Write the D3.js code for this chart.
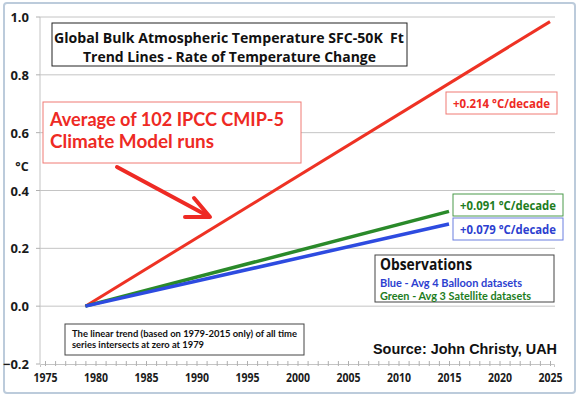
<!DOCTYPE html>
<html>
<head>
<meta charset="utf-8">
<style>
  body { margin: 0; background: #fff; }
  svg { display: block; font-family: 'Open Sans', Lato, sans-serif; }
  text { white-space: pre; }
  .grid line { stroke: #c4c4c4; stroke-width: 1; }
  .axis .domain { stroke: #c4c4c4; }
  .axis .tick line { stroke: #b0b0b0; }
  .axis text { font-family: 'Open Sans', sans-serif; font-weight: bold; font-size: 12px; fill: #1a1a1a; }
</style>
</head>
<body>
<svg width="580" height="398"></svg>
<script src="https://d3js.org/d3.v7.min.js"></script>
<script>
// trend lines, intersecting zero at 1979
const modelYears = [1979, 2025];
const modelValues = [0, 0.984];
const satelliteYears = [1979, 2015];
const satelliteValues = [0, 0.328];
const balloonYears = [1979, 2015];
const balloonValues = [0, 0.284];

const yTicks = [-0.2, 0, 0.2, 0.4, 0.6, 0.8, 1.0];
const xLabelTicks = [1975, 1980, 1985, 1990, 1995, 2000, 2005, 2010, 2015, 2020, 2025];

const svg = d3.select("svg");

// outer frame
svg.append("rect")
  .attr("x", 4).attr("y", 3).attr("width", 571).attr("height", 390)
  .attr("rx", 3)
  .style("fill", "#fff").style("stroke", "#bccbdb").style("stroke-width", 2);

const x = d3.scaleLinear().domain([1975, 2025]).range([45, 550]);
const y = d3.scaleLinear().domain([-0.2, 1.0]).range([364, 17]);
const xLeft = 40, xRight = 555;

// horizontal grid
svg.append("g").attr("class", "grid")
  .selectAll("line").data(yTicks.filter(d => d > -0.2)).join("line")
  .attr("x1", xLeft).attr("x2", xRight)
  .attr("y1", d => y(d)).attr("y2", d => y(d));

// y axis line + labels
svg.append("line")
  .attr("x1", xLeft).attr("x2", xLeft).attr("y1", y(1.0)).attr("y2", y(-0.2))
  .style("stroke", "#c4c4c4");
svg.append("g").selectAll("line").data(yTicks).join("line")
  .attr("x1", xLeft - 4).attr("x2", xLeft).attr("y1", d => y(d)).attr("y2", d => y(d))
  .style("stroke", "#b0b0b0");
svg.append("g").selectAll("text").data(yTicks).join("text")
  .attr("x", 29).attr("y", d => y(d) + 5)
  .attr("text-anchor", "end")
  .style("font-weight", "bold").style("font-size", "13px").style("fill", "#1a1a1a")
  .text(d => d3.format(".1f")(d));
svg.append("text").attr("x", 22).attr("y", 171).attr("text-anchor", "middle")
  .style("font-weight", "bold").style("font-size", "12.5px").style("fill", "#1a1a1a")
  .text("°C");

// x axis: minor ticks every year, labels every 5
const xAxisScale = d3.scaleLinear().domain([x.invert(xLeft), x.invert(554)]).range([xLeft, 554]);
svg.append("g").attr("class", "axis")
  .attr("transform", `translate(0,${y(-0.2)})`)
  .call(d3.axisBottom(xAxisScale).tickValues(d3.range(1975, 2026)).tickSize(3).tickFormat(""))
  .call(g => g.selectAll(".tick line").attr("y1", -3).attr("y2", 2));
svg.append("g").attr("class", "axis")
  .attr("transform", `translate(0,${y(-0.2)})`)
  .call(d3.axisBottom(x).tickValues(xLabelTicks).tickSize(0).tickPadding(9).tickFormat(d3.format("d")))
  .call(g => g.select(".domain").remove())
  .call(g => g.selectAll(".tick text").attr("textLength", 24).attr("lengthAdjust", "spacingAndGlyphs"));

// trend lines
const line = d3.line().x(d => x(d[0])).y(d => y(d[1]));
function series(years, values, color, w) {
  svg.append("path")
    .attr("d", line(d3.zip(years, values)))
    .style("fill", "none").style("stroke", color).style("stroke-width", w);
}
series(modelYears, modelValues, "#ee3224", 3);
series(satelliteYears, satelliteValues, "#2a8a2a", 3.5);
series(balloonYears, balloonValues, "#2d4be0", 3.5);

// multi-line text block (Lato: compact line box, so stacked lines don't collide)
function block(tx, lines, size, color) {
  lines.forEach(l => {
    svg.append("text").attr("x", l.x ?? tx).attr("y", l.y)
      .attr("textLength", l.w).attr("lengthAdjust", "spacingAndGlyphs")
      .style("font-family", "Lato, sans-serif")
      .style("font-weight", "bold").style("font-size", size + "px").style("fill", color)
      .text(l.s);
  });
}

// title box
svg.append("rect").attr("x", 52).attr("y", 23).attr("width", 355).attr("height", 43)
  .style("fill", "#fff").style("stroke", "#222").style("stroke-width", 1);
svg.append("text").attr("x", 54).attr("y", 43)
  .attr("textLength", 350).attr("lengthAdjust", "spacingAndGlyphs")
  .style("font-weight", "bold").style("font-size", "14.5px").style("fill", "#111")
  .text("Global Bulk Atmospheric Temperature SFC-50K  Ft");
svg.append("text").attr("x", 83).attr("y", 62)
  .attr("textLength", 293).attr("lengthAdjust", "spacingAndGlyphs")
  .style("font-weight", "bold").style("font-size", "14.5px").style("fill", "#111")
  .text("Trend Lines - Rate of Temperature Change");

// model callout
svg.append("rect").attr("x", 43).attr("y", 102).attr("width", 258).attr("height", 61)
  .style("fill", "#fff").style("stroke", "#f07a74").style("stroke-width", 1);
block(50, [
  { s: "Average of 102 IPCC CMIP-5", y: 126, w: 234 },
  { s: "Climate Model runs", y: 148, w: 164 }
], 18.2, "#ee2a24");

// arrow
svg.append("line").attr("x1", 117).attr("y1", 167).attr("x2", 208).attr("y2", 216)
  .style("stroke", "#ee2a24").style("stroke-width", 4).style("stroke-linecap", "round");
svg.append("path").attr("d", "M194,198 L210,217 L185,217")
  .style("fill", "none").style("stroke", "#ee2a24").style("stroke-width", 4)
  .style("stroke-linecap", "round").style("stroke-linejoin", "round");

// rate labels
function rateBox(bx, by, bw, bh, color, border, label) {
  svg.append("rect").attr("x", bx).attr("y", by).attr("width", bw).attr("height", bh)
    .style("fill", "#fff").style("stroke", border).style("stroke-width", 1);
  svg.append("text").attr("x", bx + bw / 2).attr("y", by + bh / 2 + 4.5)
    .attr("text-anchor", "middle")
    .attr("textLength", bw - 14).attr("lengthAdjust", "spacingAndGlyphs")
    .style("font-weight", "bold").style("font-size", "12.5px").style("fill", color)
    .text(label);
}
rateBox(446, 92, 111, 22, "#ee2a24", "#f07a74", "+0.214 °C/decade");
rateBox(453, 194, 110, 22, "#1e7d1e", "#4a9a4a", "+0.091 °C/decade");
rateBox(453, 218, 110, 22, "#2d3fd0", "#6a7ee0", "+0.079 °C/decade");

// observations legend
svg.append("rect").attr("x", 375).attr("y", 255).attr("width", 179).attr("height", 47)
  .style("fill", "#fff").style("stroke", "#444").style("stroke-width", 1);
svg.append("text").attr("x", 380).attr("y", 270)
  .attr("textLength", 92).attr("lengthAdjust", "spacingAndGlyphs")
  .style("font-weight", "bold").style("font-size", "16px").style("fill", "#111")
  .text("Observations");
block(380, [
  { s: "Blue - Avg 4 Balloon datasets", y: 287, w: 142 }
], 10.5, "#2d3fd0");
block(380, [
  { s: "Green - Avg 3 Satellite datasets", y: 300, w: 151 }
], 10.5, "#1e7d1e");

// linear trend note
svg.append("rect").attr("x", 65).attr("y", 324).attr("width", 239).attr("height", 31)
  .style("fill", "#fff").style("stroke", "#444").style("stroke-width", 1);
block(72, [
  { s: "The linear trend (based on 1979-2015 only) of all time", y: 337, w: 225 },
  { s: "series intersects at zero at 1979", y: 348, w: 132 }
], 9.1, "#111");

// source
svg.append("text").attr("x", 373).attr("y", 354)
  .attr("textLength", 184).attr("lengthAdjust", "spacingAndGlyphs")
  .style("font-family", "'Liberation Sans', Arial, sans-serif")
  .style("font-weight", "bold").style("font-size", "15px").style("fill", "#111")
  .text("Source: John Christy, UAH");
</script>
</body>
</html>
